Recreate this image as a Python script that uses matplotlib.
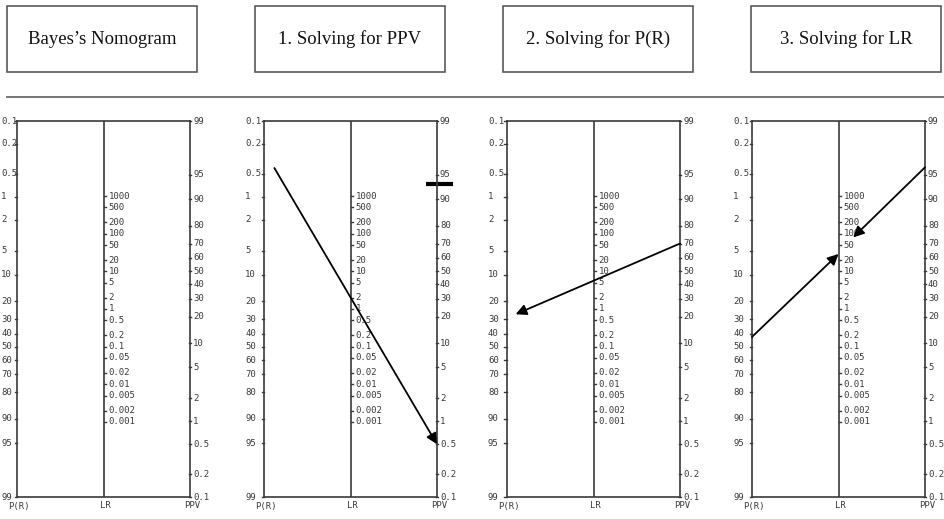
import numpy as np
import matplotlib
matplotlib.use("Agg")
import matplotlib.pyplot as plt
from matplotlib.patches import Rectangle
from matplotlib.lines import Line2D
import matplotlib.transforms as mtransforms

# ---------------- data ----------------
titles = ["Bayes\u2019s Nomogram", "1. Solving for PPV", "2. Solving for P(R)", "3. Solving for LR"]
pr_ticks = [0.1, 0.2, 0.5, 1, 2, 5, 10, 20, 30, 40, 50, 60, 70, 80, 90, 95, 99]
lr_ticks = [1000, 500, 200, 100, 50, 20, 10, 5, 2, 1, 0.5, 0.2, 0.1, 0.05, 0.02,
            0.01, 0.005, 0.002, 0.001]
ppv_ticks = [99, 95, 90, 80, 70, 60, 50, 40, 30, 20, 10, 5, 2, 1, 0.5, 0.2, 0.1]
axis_names = ["P(R)", "LR", "PPV"]

# arrows: (panel, x_start, scale_start, value_start, x_end, scale_end, value_end)
arrow_panel = [1, 2, 3, 3]
arrow_x0 = [0.12, 2.0, 0.0, 2.0]
arrow_s0 = ["P(R)", "PPV", "P(R)", "PPV"]
arrow_v0 = [0.42, 70, 42.5, 96]
arrow_x1 = [2.0, 0.10, 1.0, 1.17]
arrow_s1 = ["PPV", "P(R)", "LR", "LR"]
arrow_v1 = [0.5, 27, 29, 80]

# highlighted mark on PPV scale in panel 1
mark_panel = 1
mark_value = 93.5
mark_x = [1.87, 2.19]

# ---------------- scales ----------------
def logit(p):
    p = np.asarray(p, dtype=float) / 100.0
    return np.log(p / (1 - p))

LO = logit(0.1)
HI = logit(99)
SHIFT = LO + HI

def y_pr(v):
    return logit(v)

def y_ppv(v):
    return -logit(v) + SHIFT

def y_lr(v):
    return -np.log(v) / 2 + SHIFT / 2

scale_fn = {"P(R)": y_pr, "PPV": y_ppv, "LR": y_lr}

# ---------------- figure ----------------
W, H = 944, 519
fig = plt.figure(figsize=(W / 100, H / 100), dpi=100)
fig.patch.set_facecolor("white")

lc = "#3a3a3a"
tc = "#3a3a3a"
mono = "DejaVu Sans Mono"
fs = 6.5

# title boxes
for i, t in enumerate(titles):
    x0 = 7 + 248 * i
    rect = Rectangle((x0 / W, 1 - 72 / H), 190 / W, 66 / H, transform=fig.transFigure,
                     fill=False, edgecolor="#5a5a5a", lw=1.2)
    fig.add_artist(rect)
    fig.text((x0 + 95) / W, 1 - 39 / H, t, ha="center", va="center",
             family="Liberation Serif", fontsize=13.5, color="#111111")

fig.add_artist(Line2D([7 / W, 1], [1 - 97 / H, 1 - 97 / H], transform=fig.transFigure,
                      color="#6a6a6a", lw=1.3))

panel_left = [17, 264, 507, 752]
pw = 173
top_px, bot_px = 121, 497

axes = []
for i, xl in enumerate(panel_left):
    ax = fig.add_axes([xl / W, 1 - bot_px / H, pw / W, (bot_px - top_px) / H])
    ax.set_xlim(0, 2)
    ax.set_ylim(HI, LO)
    ax.set_xticks([])
    ax.set_yticks([])
    ax.patch.set_alpha(0)
    for s in ax.spines.values():
        s.set_color(lc)
        s.set_linewidth(1.2)
    ax.plot([1, 1], [HI, LO], color=lc, lw=1.2)

    tk = 2.5 / (pw / 2)
    left_off = max(-19, 1 - xl)
    # left scale
    for v in pr_ticks:
        y = y_pr(v)
        ax.plot([-tk, 0], [y, y], color=lc, lw=1.0, clip_on=False)
        tr = mtransforms.offset_copy(ax.transData, fig=fig, x=left_off, y=0, units="dots")
        ax.text(0, y, f"{v:g}", transform=tr, ha="left", va="center",
                family=mono, fontsize=fs, color=tc, clip_on=False)
    # middle scale
    for v in lr_ticks:
        y = y_lr(v)
        ax.plot([1, 1 + tk], [y, y], color=lc, lw=1.0, clip_on=False)
        tr = mtransforms.offset_copy(ax.transData, fig=fig, x=5, y=0, units="dots")
        ax.text(1, y, f"{v:g}", transform=tr, ha="left", va="center",
                family=mono, fontsize=fs, color=tc, clip_on=False)
    # right scale
    for v in ppv_ticks:
        y = y_ppv(v)
        ax.plot([2 - tk / 2, 2 + tk / 2], [y, y], color=lc, lw=1.0, clip_on=False)
        tr = mtransforms.offset_copy(ax.transData, fig=fig, x=3, y=0, units="dots")
        ax.text(2, y, f"{v:g}", transform=tr, ha="left", va="center",
                family=mono, fontsize=fs, color=tc, clip_on=False)
    # axis names
    for xi, name in enumerate(axis_names):
        tr = mtransforms.offset_copy(ax.transData, fig=fig, x=2, y=-9, units="dots")
        ax.text(xi, HI, name, transform=tr, ha="center", va="center",
                family=mono, fontsize=fs, color=tc, clip_on=False)
    axes.append(ax)

# arrows
for p, x0, s0, v0, x1, s1, v1 in zip(arrow_panel, arrow_x0, arrow_s0, arrow_v0,
                                      arrow_x1, arrow_s1, arrow_v1):
    ax = axes[p]
    ax.annotate("", xy=(x1, scale_fn[s1](v1)), xytext=(x0, scale_fn[s0](v0)),
                xycoords="data", textcoords="data", annotation_clip=False,
                arrowprops=dict(arrowstyle="-|>", color="black", lw=1.3,
                                mutation_scale=16, shrinkA=0, shrinkB=0))

# mark bar
ax = axes[mark_panel]
ax.plot(mark_x, [y_ppv(mark_value)] * 2, color="black", lw=3, clip_on=False,
        solid_capstyle="butt")

fig.savefig("out.png", dpi=100, facecolor="white")
